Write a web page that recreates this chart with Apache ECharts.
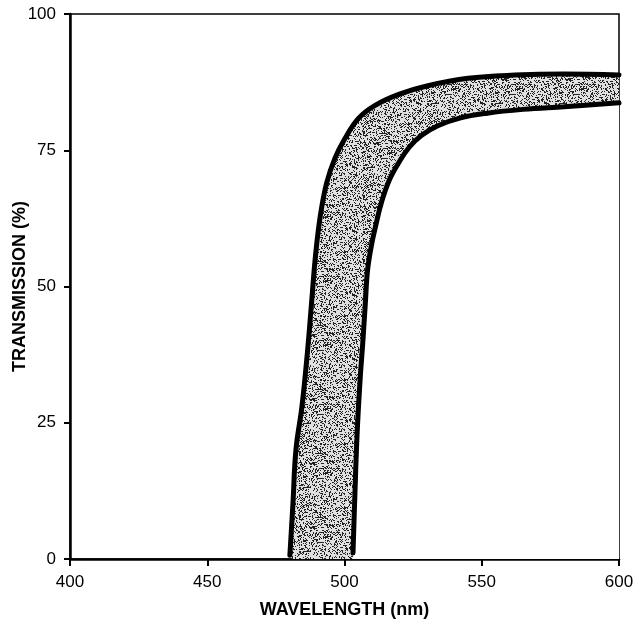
<!DOCTYPE html>
<html>
<head>
<meta charset="utf-8">
<script src="https://cdn.jsdelivr.net/npm/echarts@6/dist/echarts.min.js"></script>
<style>
  html, body { margin: 0; padding: 0; background: #fff; }
  #main { width: 635px; height: 630px; }
</style>
</head>
<body>
<div id="main"></div>
<script>
var myChart = echarts.init(document.getElementById('main'));

// left (upper) edge of the band: [wavelength nm, transmission %]
var upperEdge = [
    [480.1, 0.7], [481.2, 10.0], [482.3, 20.0], [484.5, 28.0], [486.5, 38.0],
    [488.0, 47.0], [489.5, 56.0], [491.2, 63.0], [493.5, 69.0], [496.5, 73.5],
    [500.0, 77.0], [505.0, 80.8], [511.0, 83.2], [520.0, 85.3], [530.0, 86.8],
    [545.0, 88.2], [562.0, 88.8], [580.0, 89.0], [600.0, 88.8]
];
// right (lower) edge of the band
var lowerEdge = [
    [503.1, 1.1], [503.8, 12.0], [504.6, 23.0], [505.7, 33.0], [506.7, 40.0],
    [507.6, 47.0], [508.4, 53.0], [509.8, 57.5], [511.3, 61.0], [513.5, 65.5],
    [516.3, 69.5], [519.5, 72.5], [523.5, 75.5], [528.0, 77.7], [534.0, 79.5],
    [542.0, 80.9], [552.0, 81.8], [565.0, 82.5], [580.0, 83.0], [600.0, 83.7]
];
var xTicks = [400, 450, 500, 550, 600];
var yTicks = [0, 25, 50, 75, 100];

var font = 'Liberation Sans, Arial, sans-serif';

// stipple texture for the band (fixed hash, so the same every time)
function makeStipple() {
    var c = document.createElement('canvas');
    c.width = 64; c.height = 64;
    var ctx = c.getContext('2d');
    ctx.fillStyle = '#e0e0e0';
    ctx.fillRect(0, 0, 64, 64);
    ctx.fillStyle = '#222';
    for (var y = 0; y < 64; y++) {
        for (var x = 0; x < 64; x++) {
            var h = Math.sin(x * 12.9898 + y * 78.233) * 43758.5453;
            h = h - Math.floor(h);
            if (h < 0.32) ctx.fillRect(x, y, 1, 1);
        }
    }
    return c;
}

option = {
    animation: false,
    backgroundColor: '#fff',
    grid: {
        left: 70,
        right: 16,
        top: 14,
        bottom: 71,
        containLabel: false,
        outerBoundsMode: 'none',
        show: true,
        borderColor: '#000',
        borderWidth: 1.5
    },
    xAxis: {
        type: 'value',
        min: xTicks[0],
        max: xTicks[xTicks.length - 1],
        interval: 50,
        name: 'WAVELENGTH (nm)',
        nameLocation: 'middle',
        nameGap: 42,
        nameMoveOverlap: false,
        nameTextStyle: { fontFamily: font, fontWeight: 'bold', fontSize: 18, color: '#000' },
        axisLine: { lineStyle: { color: '#000', width: 2.5 } },
        axisTick: { length: 7, lineStyle: { color: '#000', width: 2 } },
        axisLabel: { fontFamily: font, fontSize: 17, color: '#000', margin: 15 },
        splitLine: { show: false }
    },
    yAxis: {
        type: 'value',
        min: yTicks[0],
        max: yTicks[yTicks.length - 1],
        interval: 25,
        name: 'TRANSMISSION (%)',
        nameLocation: 'middle',
        nameGap: 41,
        nameMoveOverlap: false,
        nameTextStyle: { fontFamily: font, fontWeight: 'bold', fontSize: 18, color: '#000' },
        axisLine: { show: true, lineStyle: { color: '#000', width: 2.5 } },
        axisTick: { show: true, length: 6, lineStyle: { color: '#000', width: 2 } },
        axisLabel: { fontFamily: font, fontSize: 17, color: '#000', margin: 14 },
        splitLine: { show: false }
    },
    series: [
        {
            name: 'upper',
            type: 'line',
            smooth: 0.4,
            showSymbol: false,
            data: upperEdge,
            lineStyle: { color: '#000', width: 5, cap: 'round' },
            areaStyle: { color: { image: makeStipple(), repeat: 'repeat' }, opacity: 1 },
            z: 2
        },
        {
            name: 'lower',
            type: 'line',
            smooth: 0.4,
            showSymbol: false,
            data: lowerEdge,
            lineStyle: { color: '#000', width: 5, cap: 'round' },
            areaStyle: { color: '#fff', opacity: 1 },
            z: 3
        }
    ]
};
myChart.setOption(option);
</script>
</body>
</html>
